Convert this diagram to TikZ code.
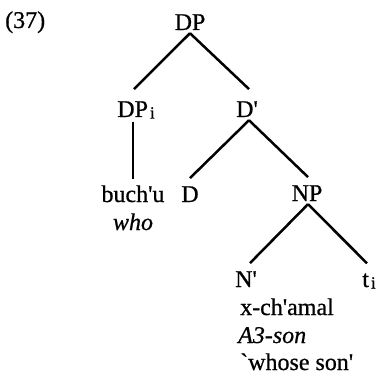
\documentclass[tikz,border=0pt]{standalone}
\usepackage{fontspec}
\setmainfont{Liberation Serif}[Ligatures=TeXOff,FakeBold=0.7]
\usetikzlibrary{positioning}
\newcommand\idx[1]{\hspace{2pt}\raisebox{-1.5pt}{\fontsize{17}{17}\selectfont #1}}

\begin{document}
\begin{tikzpicture}[x=1pt,y=-1pt,
    cat/.style={font=\fontsize{24}{28}\selectfont,inner sep=3pt,anchor=base},
    word/.style={font=\fontsize{24}{28}\selectfont,inner sep=0pt,anchor=base west},
    branch/.style={line width=2.5pt}
  ]
    \useasboundingbox (0,0) rectangle (378,382);

    % Example number
    \node[word] (ex) at (5,28) {(37)};

    % Categories
    \node[cat] (dp) at (190,30) {DP};
    \node[cat] (dpi) at (136,117) {DP\idx{i}};
    \node[cat] (dbar) at (247,117) {D'};
    \node[cat] (d) at (190,202) {D};
    \node[cat] (np) at (307,201) {NP};
    \node[cat] (nbar) at (246,287) {N'};
    \node[cat] (ti) at (369,287) {t\idx{i}};

    % Words and glosses
    \node[cat] (buchu) at (133,202) {buch'u};
    \node[cat] (who) at (133,230) {\itshape who};
    \node[word] (chamal) at (240,315) {x-ch'amal};
    \node[word] (son) at (238,343) {\itshape A3-son};
    \node[word] (gloss) at (240,370) {`whose son'};

    % Branches
    \draw[branch] (dp.south) -- ([xshift=-2pt,yshift=9pt]dpi.north);
    \draw[branch] (dp.south) -- ([xshift=2pt,yshift=9pt]dbar.north);
    \draw[branch] (buchu.north |- dpi.south) -- ([yshift=3pt]buchu.north);
    \draw[branch] ([xshift=2pt]dbar.south) -- ([yshift=5pt]d.north);
    \draw[branch] ([xshift=2pt]dbar.south) -- ([xshift=1pt,yshift=5pt]np.north);
    \draw[branch] ([xshift=1pt]np.south) -- ([xshift=4pt,yshift=5pt]nbar.north);
    \draw[branch] ([xshift=1pt]np.south) -- ([xshift=-2pt,yshift=7pt]ti.north);
  \end{tikzpicture}
\end{document}
